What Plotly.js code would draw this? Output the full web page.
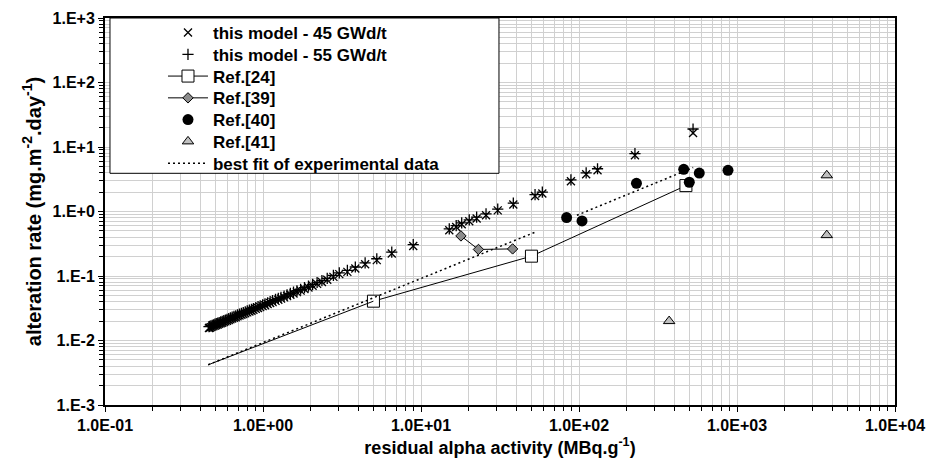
<!DOCTYPE html>
<html>
<head>
<meta charset="utf-8">
<script src="https://cdn.plot.ly/plotly-3.0.1.min.js"></script>
<style>html,body{margin:0;padding:0;background:#fff;}#chart{width:928px;height:468px;}</style>
</head>
<body>
<div id="chart"></div>
<script>
// ---- data ----
const modelX = [527, 226, 131, 111, 88.9, 58.6, 52.7, 38.4, 30.6, 25.8, 22.5, 20.2, 18.1, 16.7, 15.1,
  8.93, 6.53, 5.25, 4.43, 3.84, 3.42, 3.04, 2.79,
  2.55, 2.36, 2.2, 2.06, 1.94, 1.83, 1.73, 1.64, 1.56, 1.49, 1.42, 1.36, 1.3, 1.25, 1.2,
  1.15, 1.11, 1.07, 1.03, 0.995, 0.96, 0.93, 0.9, 0.87, 0.845, 0.82, 0.795, 0.772, 0.75, 0.73,
  0.71, 0.69, 0.672, 0.655, 0.638, 0.622, 0.607, 0.592, 0.578, 0.565, 0.552, 0.54, 0.528, 0.517, 0.506,
  0.496, 0.486, 0.477, 0.468, 0.46, 0.455];
const model45Y = [16.5, 7.43, 4.35, 3.78, 2.94, 1.90, 1.74, 1.28, 1.04, 0.875, 0.778, 0.707, 0.634, 0.576, 0.513,
  0.292, 0.223, 0.176, 0.152, 0.131, 0.116, 0.107, 0.097,
  0.0875, 0.0809, 0.0755, 0.0707, 0.0665, 0.0628, 0.0593, 0.0563, 0.0535, 0.0511, 0.0487, 0.0466, 0.0446, 0.0429, 0.0412,
  0.0394, 0.0381, 0.0367, 0.0353, 0.0341, 0.0329, 0.0319, 0.0309, 0.0298, 0.029, 0.0281, 0.0273, 0.0265, 0.0257, 0.025,
  0.0244, 0.0237, 0.023, 0.0225, 0.0219, 0.0213, 0.0208, 0.0203, 0.0198, 0.0194, 0.0189, 0.0185, 0.0181, 0.0177, 0.0174,
  0.017, 0.0167, 0.0164, 0.0161, 0.0158, 0.0156];
const model55Y = [19.0, 7.9, 4.6, 3.98, 3.1, 2.0, 1.83, 1.35, 1.09, 0.92, 0.817, 0.742, 0.666, 0.605, 0.539,
  0.307, 0.234, 0.185, 0.16, 0.138, 0.122, 0.112, 0.102,
  0.0919, 0.0849, 0.0793, 0.0742, 0.0698, 0.0659, 0.0623, 0.0591, 0.0562, 0.0537, 0.0511, 0.0489, 0.0468, 0.045, 0.0433,
  0.0414, 0.04, 0.0385, 0.0371, 0.0358, 0.0345, 0.0335, 0.0324, 0.0313, 0.0305, 0.0295, 0.0287, 0.0278, 0.027, 0.0263,
  0.0256, 0.0249, 0.0242, 0.0236, 0.023, 0.0224, 0.0218, 0.0213, 0.0208, 0.0204, 0.0198, 0.0194, 0.019, 0.0186, 0.0183,
  0.0179, 0.0175, 0.0172, 0.0169, 0.0166, 0.0164];

const ref24X = [5, 50, 475];
const ref24Y = [0.0407, 0.203, 2.52];
const ref24ExtX = [0.45, 5];
const ref24ExtY = [0.0042, 0.0407];

const ref39X = [17.9, 23.1, 38.0];
const ref39Y = [0.418, 0.258, 0.263];

const ref40X = [83.5, 104.5, 231, 460, 577, 499, 877];
const ref40Y = [0.805, 0.714, 2.74, 4.51, 3.95, 2.84, 4.35];

const ref41X = [372, 3700, 3700];
const ref41Y = [0.020, 3.64, 0.43];

const fitX = [0.45, 53, null, 97, 528];
const fitY = [0.0042, 0.48, null, 0.875, 4.8];

const xTickVals = [0.1, 1, 10, 100, 1000, 10000];
const xTickText = ['1.0E-01', '1.0E+00', '1.0E+01', '1.0E+02', '1.0E+03', '1.0E+04'];
const yTickVals = [0.001, 0.01, 0.1, 1, 10, 100, 1000];
const yTickText = ['1.E-3', '1.E-2', '1.E-1', '1.E+0', '1.E+1', '1.E+2', '1.E+3'];

const names = ['this model - 45 GWd/t', 'this model - 55 GWd/t', 'Ref.[24]', 'Ref.[39]', 'Ref.[40]', 'Ref.[41]', 'best fit of experimental data'];

// ---- traces ----
const traces = [
  {name: names[0], legend: 'legend', x: modelX, y: model45Y, mode: 'markers', type: 'scatter',
   marker: {symbol: 'x-thin', size: 8, color: 'black', line: {width: 1.3, color: 'black'}}},
  {name: names[1], legend: 'legend2', x: modelX, y: model55Y, mode: 'markers', type: 'scatter',
   marker: {symbol: 'cross-thin', size: 8, color: 'black', line: {width: 1.3, color: 'black'}}},
  {name: names[2], legend: 'legend3', x: ref24X, y: ref24Y, mode: 'lines+markers', type: 'scatter',
   line: {color: 'black', width: 1},
   marker: {symbol: 'square', size: 12, color: 'white', line: {width: 1, color: 'black'}}},
  {name: names[3], legend: 'legend4', x: ref39X, y: ref39Y, mode: 'lines+markers', type: 'scatter',
   line: {color: 'black', width: 1},
   marker: {symbol: 'diamond', size: 8, color: '#8c8c8c', line: {width: 1, color: 'black'}}},
  {name: names[4], legend: 'legend5', x: ref40X, y: ref40Y, mode: 'markers', type: 'scatter',
   marker: {symbol: 'circle', size: 11, color: 'black'}},
  {name: names[5], legend: 'legend6', x: ref41X, y: ref41Y, mode: 'markers', type: 'scatter',
   marker: {symbol: 'triangle-up', size: 10, color: '#c0c0c0', line: {width: 1, color: 'black'}}},
  {name: names[6], legend: 'legend7', x: fitX, y: fitY, mode: 'lines', type: 'scatter', connectgaps: false,
   line: {color: 'black', width: 1.5, dash: '2px,3px'}},
  {name: 'Ref.[24] ext', x: ref24ExtX, y: ref24ExtY, mode: 'lines', type: 'scatter', showlegend: false,
   line: {color: 'black', width: 1}}
];

const gridCol = '#d0d0d0';
const axisCommon = {
  type: 'log', showline: true, linecolor: 'black', linewidth: 2, mirror: true,
  ticks: 'outside', ticklen: 5, tickwidth: 1, tickcolor: 'black',
  showgrid: true, gridcolor: gridCol, gridwidth: 1, zeroline: false,
  tickmode: 'array',
  minor: {ticks: 'outside', ticklen: 4, tickwidth: 1, tickcolor: 'black', showgrid: true, gridcolor: gridCol, gridwidth: 1, dtick: 'D1'},
  tickfont: {size: 16, weight: 'bold', color: 'black'}
};

// legend rows (paper y of each row centre)
const legendRowY = [0.9613, 0.9050, 0.8488, 0.7925, 0.7363, 0.6800, 0.6237];
function legendAt(yv) {
  return {x: 0.0734, y: yv, xanchor: 'left', yanchor: 'middle',
    bgcolor: 'rgba(0,0,0,0)', borderwidth: 0, itemwidth: 40,
    font: {size: 17, weight: 'bold', color: 'black'}};
}

const layout = {
  width: 928, height: 468,
  margin: {l: 105, r: 33, t: 18, b: 63, pad: 0},
  paper_bgcolor: 'white', plot_bgcolor: 'white',
  font: {family: 'Liberation Sans, Arial, sans-serif', color: 'black'},
  showlegend: true,
  xaxis: Object.assign({}, axisCommon, {
    range: [-1, 4], tickvals: xTickVals, ticktext: xTickText,
    title: {text: 'residual alpha activity (MBq.g<sup>-1</sup>)', font: {size: 18, weight: 'bold'}, standoff: 8}
  }),
  yaxis: Object.assign({}, axisCommon, {
    range: [-3, 3], tickvals: yTickVals, ticktext: yTickText,
    title: {text: 'alteration rate (mg.m<sup>-2</sup>.day<sup>-1</sup>)', font: {size: 20, weight: 'bold'}, standoff: 6}
  }),
  legend: legendAt(legendRowY[0]),
  legend2: legendAt(legendRowY[1]),
  legend3: legendAt(legendRowY[2]),
  legend4: legendAt(legendRowY[3]),
  legend5: legendAt(legendRowY[4]),
  legend6: legendAt(legendRowY[5]),
  legend7: legendAt(legendRowY[6]),
  shapes: [
    {type: 'rect', xref: 'x domain', yref: 'y domain', x0: 0.0063, x1: 0.4987, y0: 0.5987, y1: 1,
     line: {color: 'black', width: 1}, fillcolor: 'white', layer: 'above'}
  ]
};

Plotly.newPlot('chart', traces, layout, {displayModeBar: false, staticPlot: true});
</script>
</body>
</html>
